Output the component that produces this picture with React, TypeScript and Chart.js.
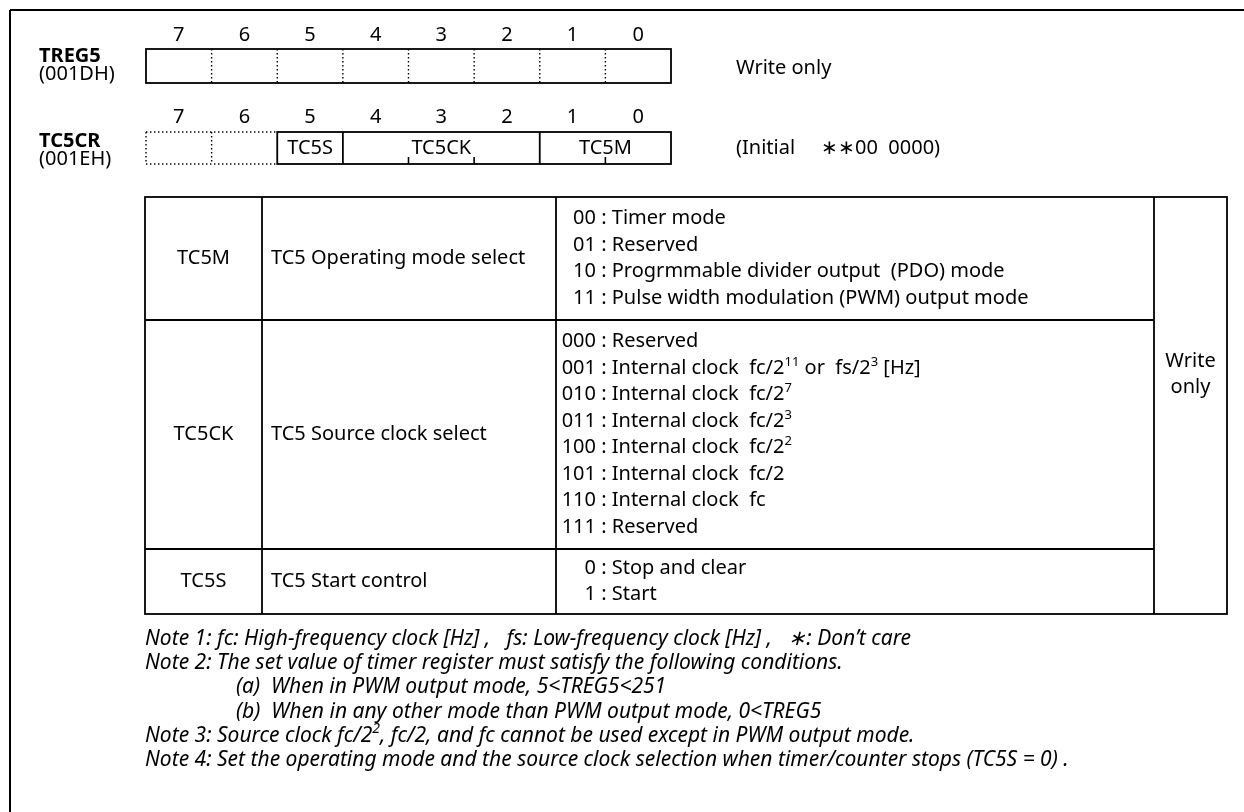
import React, { useEffect, useRef } from "react";
import { Chart, registerables } from "chart.js";

Chart.register(...registerables);

// ---------------- data ----------------
const bitNumbers = [7, 6, 5, 4, 3, 2, 1, 0];
const registerNames = ["TREG5", "TC5CR"];
const registerAddresses = ["(001DH)", "(001EH)"];
const registerSideTexts = ["Write only", "(Initial     \u2217\u221700  0000)"];
const tc5crUnusedBits = [7, 6];
const tc5crFieldNames = ["TC5S", "TC5CK", "TC5M"];
const tc5crFieldMsb = [5, 4, 1];
const tc5crFieldLsb = [5, 2, 0];

const tableRowNames = ["TC5M", "TC5CK", "TC5S"];
const tableRowDescriptions = ["TC5 Operating mode select", "TC5 Source clock select", "TC5 Start control"];
const tc5mCodes = ["00", "01", "10", "11"];
const tc5mTexts = [
  "Timer mode",
  "Reserved",
  "Progrmmable divider output  (PDO) mode",
  "Pulse width modulation (PWM) output mode",
];
const tc5ckCodes = ["000", "001", "010", "011", "100", "101", "110", "111"];
const tc5ckTexts = [
  "Reserved",
  "Internal clock  fc/2^{11} or  fs/2^{3} [Hz]",
  "Internal clock  fc/2^{7}",
  "Internal clock  fc/2^{3}",
  "Internal clock  fc/2^{2}",
  "Internal clock  fc/2",
  "Internal clock  fc",
  "Reserved",
];
const tc5sCodes = ["0", "1"];
const tc5sTexts = ["Stop and clear", "Start"];
const accessLines = ["Write", "only"];
const noteLines = [
  "Note 1: fc: High-frequency clock [Hz] ,   fs: Low-frequency clock [Hz] ,   \u2217: Don\u2019t care",
  "Note 2: The set value of timer register must satisfy the following conditions.",
  "(a)  When in PWM output mode, 5<TREG5<251",
  "(b)  When in any other mode than PWM output mode, 0<TREG5",
  "Note 3: Source clock fc/2^{2}, fc/2, and fc cannot be used except in PWM output mode.",
  "Note 4: Set the operating mode and the source clock selection when timer/counter stops (TC5S = 0) .",
];
const noteIndented = [false, false, true, true, false, false];

// ---------------- layout (design units = page pixels) ----------------
const W = 1244;
const H = 812;
const FRAME = { left: 10, top: 10 };
const BOX = { left: 146, right: 671 };
const REG = {
  bitY: [35, 117],
  top: [49, 132],
  bottom: [83, 164],
  labelX: 39,
  labelY: [56, 141],
  addrY: [74, 159],
  sideX: 736,
  sideY: [68, 148],
};
const TABLE = {
  cols: [145, 262, 556, 1154, 1227],
  rows: [197, 320, 549, 614],
  lineGap: 26.5,
  codeRight: 596,
  descPad: 9,
};
const NOTES = { x: 145, indentX: 236, y0: 639, gap: 24.2 };
const FS = 20;
const NOTE_FS = 21;

const FONT = '"Noto Sans", "Open Sans", sans-serif';

function drawRich(ctx, text, x, y, size, style, align) {
  const parts = [];
  const re = /\^\{([^}]*)\}/g;
  let last = 0;
  let m;
  while ((m = re.exec(text)) !== null) {
    if (m.index > last) parts.push({ t: text.slice(last, m.index), sup: false });
    parts.push({ t: m[1], sup: true });
    last = re.lastIndex;
  }
  if (last < text.length) parts.push({ t: text.slice(last), sup: false });
  const base = `${style} ${size}px ${FONT}`;
  const supF = `${style} ${Math.round(size * 0.66)}px ${FONT}`;
  let total = 0;
  for (const p of parts) {
    ctx.font = p.sup ? supF : base;
    p.w = ctx.measureText(p.t).width;
    total += p.w;
  }
  let cx = x;
  if (align === "center") cx = x - total / 2;
  else if (align === "right") cx = x - total;
  ctx.textAlign = "left";
  ctx.textBaseline = "middle";
  for (const p of parts) {
    ctx.font = p.sup ? supF : base;
    ctx.fillText(p.t, cx, p.sup ? y - size * 0.3 : y);
    cx += p.w;
  }
}

const diagramPlugin = {
  id: "registerDiagram",
  beforeDraw(chart) {
    const ctx = chart.ctx;
    ctx.save();
    ctx.fillStyle = "#ffffff";
    ctx.fillRect(0, 0, chart.width, chart.height);
    ctx.restore();
  },
  afterDraw(chart) {
    const ctx = chart.ctx;
    const sx = chart.scales.x;
    const sy = chart.scales.y;
    const sb = chart.scales.bit;
    const X = (v) => sx.getPixelForValue(v);
    const Y = (v) => sy.getPixelForValue(v);
    const B = (v) => sb.getPixelForValue(v); // bit boundary: left edge of bit b is b+1
    ctx.save();
    ctx.strokeStyle = "#000";
    ctx.fillStyle = "#000";

    const line = (x1, y1, x2, y2, w = 1.8, dash = null) => {
      ctx.beginPath();
      ctx.lineWidth = w;
      ctx.setLineDash(dash || []);
      ctx.moveTo(x1, y1);
      ctx.lineTo(x2, y2);
      ctx.stroke();
      ctx.setLineDash([]);
    };
    const DOT = [1.4, 2.6];

    // outer frame (left and top edges)
    line(X(FRAME.left), Y(FRAME.top), X(W), Y(FRAME.top), 2);
    line(X(FRAME.left), Y(FRAME.top), X(FRAME.left), Y(H), 2);

    // register labels, bit numbers
    for (let r = 0; r < registerNames.length; r++) {
      drawRich(ctx, registerNames[r], X(REG.labelX), Y(REG.labelY[r]), FS, "bold", "left");
      drawRich(ctx, registerAddresses[r], X(REG.labelX), Y(REG.addrY[r]), FS, "normal", "left");
      bitNumbers.forEach((b) => {
        drawRich(ctx, String(b), (B(b + 1) + B(b)) / 2, Y(REG.bitY[r]), FS, "normal", "center");
      });
      drawRich(ctx, registerSideTexts[r], X(REG.sideX), Y(REG.sideY[r]), FS, "normal", "left");
    }

    // TREG5 box: solid outline, dotted bit dividers
    {
      const t = Y(REG.top[0]), bt = Y(REG.bottom[0]);
      ctx.lineWidth = 1.8;
      ctx.strokeRect(B(8), t, B(0) - B(8), bt - t);
      for (let b = 1; b < 8; b++) line(B(b), t, B(b), bt, 1.4, DOT);
    }

    // TC5CR box
    {
      const t = Y(REG.top[1]), bt = Y(REG.bottom[1]);
      const hi = Math.max(...tc5crUnusedBits) + 1;
      const lo = Math.min(...tc5crUnusedBits);
      line(B(hi), t, B(lo), t, 1.4, DOT);
      line(B(hi), bt, B(lo), bt, 1.4, DOT);
      for (let b = lo + 1; b <= hi; b++) line(B(b), t, B(b), bt, 1.4, DOT);
      const fHi = Math.max(...tc5crFieldMsb) + 1;
      const fLo = Math.min(...tc5crFieldLsb);
      ctx.lineWidth = 1.8;
      ctx.strokeRect(B(fHi), t, B(fLo) - B(fHi), bt - t);
      for (let i = 0; i < tc5crFieldNames.length; i++) {
        const msb = tc5crFieldMsb[i];
        const lsb = tc5crFieldLsb[i];
        if (lsb > fLo) line(B(lsb), t, B(lsb), bt, 1.8);
        for (let b = lsb + 1; b <= msb; b++) line(B(b), bt - 7, B(b), bt, 1.6);
        drawRich(ctx, tc5crFieldNames[i], (B(msb + 1) + B(lsb)) / 2, (t + bt) / 2, FS, "normal", "center");
      }
    }

    // table grid
    {
      const c = TABLE.cols.map(X);
      const r = TABLE.rows.map(Y);
      ctx.lineWidth = 1.8;
      ctx.strokeRect(c[0], r[0], c[4] - c[0], r[3] - r[0]);
      for (let i = 1; i < 4; i++) line(c[i], r[0], c[i], r[3], 1.8);
      for (let j = 1; j < 3; j++) line(c[0], r[j], c[3], r[j], 1.8);

      const optionCodes = [tc5mCodes, tc5ckCodes, tc5sCodes];
      const optionTexts = [tc5mTexts, tc5ckTexts, tc5sTexts];
      for (let j = 0; j < 3; j++) {
        const mid = (TABLE.rows[j] + TABLE.rows[j + 1]) / 2;
        drawRich(ctx, tableRowNames[j], (c[0] + c[1]) / 2, Y(mid), FS, "normal", "center");
        drawRich(ctx, tableRowDescriptions[j], c[1] + TABLE.descPad, Y(mid), FS, "normal", "left");
        const n = optionCodes[j].length;
        for (let k = 0; k < n; k++) {
          const yy = Y(mid + (k - (n - 1) / 2) * TABLE.lineGap);
          drawRich(ctx, optionCodes[j][k], X(TABLE.codeRight), yy, FS, "normal", "right");
          drawRich(ctx, " : " + optionTexts[j][k], X(TABLE.codeRight), yy, FS, "normal", "left");
        }
      }
      const accMid = (TABLE.rows[1] + TABLE.rows[2]) / 2 - 60;
      accessLines.forEach((s, k) => {
        drawRich(ctx, s, (c[3] + c[4]) / 2, Y(accMid + (k - 0.5) * TABLE.lineGap), FS, "normal", "center");
      });
    }

    // notes
    noteLines.forEach((s, k) => {
      const x = noteIndented[k] ? NOTES.indentX : NOTES.x;
      drawRich(ctx, s, X(x), Y(NOTES.y0 + k * NOTES.gap), NOTE_FS, "italic", "left");
    });

    ctx.restore();
  },
};

export default function App() {
  const ref = useRef(null);
  useEffect(() => {
    const unit = (BOX.right - BOX.left) / bitNumbers.length;
    const bitMax = bitNumbers.length + BOX.left / unit;
    const bitMin = -(W - BOX.right) / unit;
    const chart = new Chart(ref.current, {
      type: "scatter",
      data: { datasets: [] },
      options: {
        animation: false,
        responsive: false,
        devicePixelRatio: 1,
        layout: { padding: 0 },
        plugins: { legend: { display: false }, tooltip: { enabled: false }, title: { display: false } },
        scales: {
          x: { type: "linear", min: 0, max: W, display: false },
          y: { type: "linear", min: 0, max: H, reverse: true, display: false },
          bit: { type: "linear", axis: "x", position: "bottom", min: bitMin, max: bitMax, reverse: true, display: false },
        },
      },
      plugins: [diagramPlugin],
    });
    return () => chart.destroy();
  }, []);
  return (
    <div style={{ position: "fixed", left: 0, top: 0, width: W, height: H, background: "#fff" }}>
      <canvas ref={ref} width={W} height={H} style={{ width: W, height: H, display: "block" }} />
    </div>
  );
}
